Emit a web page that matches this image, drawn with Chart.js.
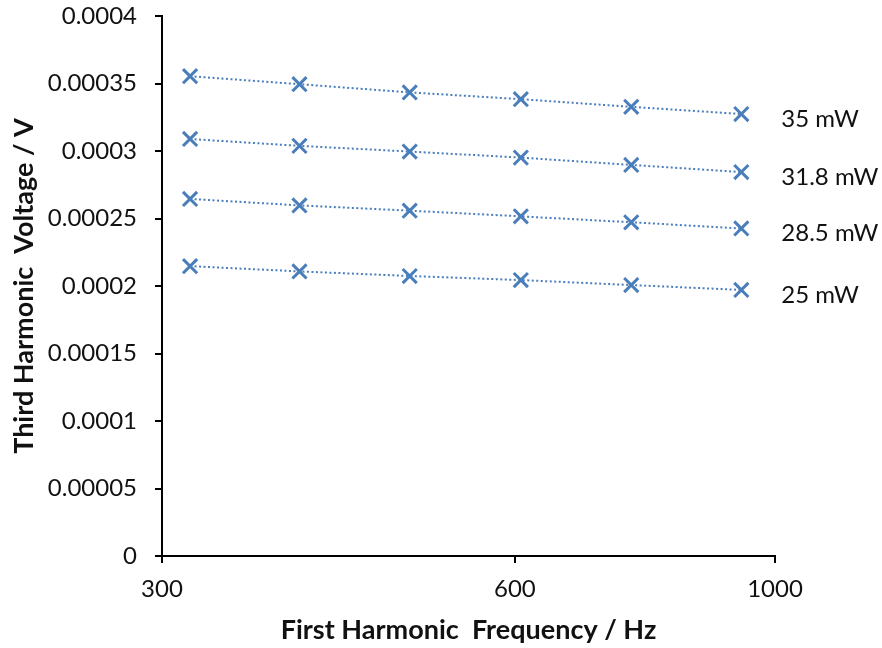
<!DOCTYPE html>
<html>
<head>
<meta charset="utf-8">
<script src="https://cdn.jsdelivr.net/npm/chart.js@4/dist/chart.umd.min.js"></script>
<style>
  html, body { margin: 0; padding: 0; background: #fff; }
  #wrap { width: 882px; height: 648px; position: relative; }
</style>
</head>
<body>
<div id="wrap"><canvas id="c" width="882" height="648"></canvas></div>
<script>
// ---- data ----
const frequencies = [317, 393, 488, 607, 754, 936];
const v35   = [0.0003554, 0.0003495, 0.0003434, 0.0003384, 0.0003327, 0.0003274];
const v31_8 = [0.0003089, 0.0003038, 0.0002996, 0.0002951, 0.0002897, 0.0002844];
const v28_5 = [0.0002645, 0.0002597, 0.0002558, 0.0002516, 0.0002472, 0.0002426];
const v25   = [0.0002147, 0.0002108, 0.0002074, 0.0002044, 0.0002007, 0.0001971];
const seriesLabels = ['35 mW', '31.8 mW', '28.5 mW', '25 mW'];
const seriesValues = [v35, v31_8, v28_5, v25];
const xTicks = [300, 600, 1000];
const yTicks = [0, 0.00005, 0.0001, 0.00015, 0.0002, 0.00025, 0.0003, 0.00035, 0.0004];

const BLUE = '#4a7ebb';
const FONT = 'Lato, "Open Sans", sans-serif';
const TXT = '#111';

const datasets = seriesValues.map((vals, i) => ({
  label: seriesLabels[i],
  data: frequencies.map((f, j) => ({x: f, y: vals[j]})),
  showLine: true,
  borderColor: BLUE,
  backgroundColor: BLUE,
  borderWidth: 2,
  borderDash: [2, 2.5],
  pointStyle: 'crossRot',
  pointRadius: 10,
  pointBorderWidth: 3,
  pointBorderColor: BLUE,
  pointBackgroundColor: BLUE,
  tension: 0
}));

const endLabels = {
  id: 'endLabels',
  afterDatasetsDraw(chart) {
    const ctx = chart.ctx;
    ctx.save();
    ctx.font = '24px ' + FONT;
    ctx.fillStyle = TXT;
    ctx.textAlign = 'left';
    ctx.textBaseline = 'middle';
    chart.data.datasets.forEach((ds, i) => {
      const meta = chart.getDatasetMeta(i);
      const last = meta.data[meta.data.length - 1];
      ctx.fillText(ds.label, last.x + 40, last.y + 5);
    });
    ctx.restore();
  }
};

new Chart(document.getElementById('c'), {
  type: 'scatter',
  data: { datasets },
  plugins: [endLabels],
  options: {
    responsive: false,
    animation: false,
    devicePixelRatio: 1,
    layout: { padding: { left: 0, right: 107, top: 16, bottom: 0 } },
    plugins: { legend: { display: false }, tooltip: { enabled: false } },
    scales: {
      x: {
        type: 'logarithmic',
        min: 300,
        max: 1000,
        afterBuildTicks: (axis) => { axis.ticks = xTicks.map(v => ({ value: v })); },
        afterFit: (scale) => { scale.height = 92; scale.paddingLeft = 0; scale.paddingRight = 0; },
        ticks: {
          callback: (v) => String(v),
          font: { family: FONT, size: 24 },
          color: TXT,
          padding: 12,
          maxRotation: 0,
          autoSkip: false
        },
        grid: { display: true, drawOnChartArea: false, drawTicks: true, tickLength: 7, color: '#000', lineWidth: 2 },
        border: { display: true, color: '#000', width: 2 },
        title: {
          display: true,
          text: 'First Harmonic  Frequency / Hz',
          font: { family: FONT, size: 27, weight: 'bold' },
          color: TXT,
          padding: { top: 0, bottom: 2 }
        }
      },
      y: {
        min: 0,
        max: 0.0004,
        afterBuildTicks: (axis) => { axis.ticks = yTicks.map(v => ({ value: v })); },
        afterFit: (scale) => { scale.width = 162; scale.paddingTop = 0; scale.paddingBottom = 0; },
        ticks: {
          callback: (v) => String(Number(v.toFixed(5))),
          font: { family: FONT, size: 24 },
          color: TXT,
          padding: 18
        },
        grid: { display: true, drawOnChartArea: false, drawTicks: true, tickLength: 7, color: '#000', lineWidth: 2 },
        border: { display: true, color: '#000', width: 2 },
        title: {
          display: true,
          text: 'Third Harmonic  Voltage / V',
          font: { family: FONT, size: 27, weight: 'bold' },
          color: TXT,
          padding: { top: 8, bottom: 0 }
        }
      }
    }
  }
});
</script>
</body>
</html>
